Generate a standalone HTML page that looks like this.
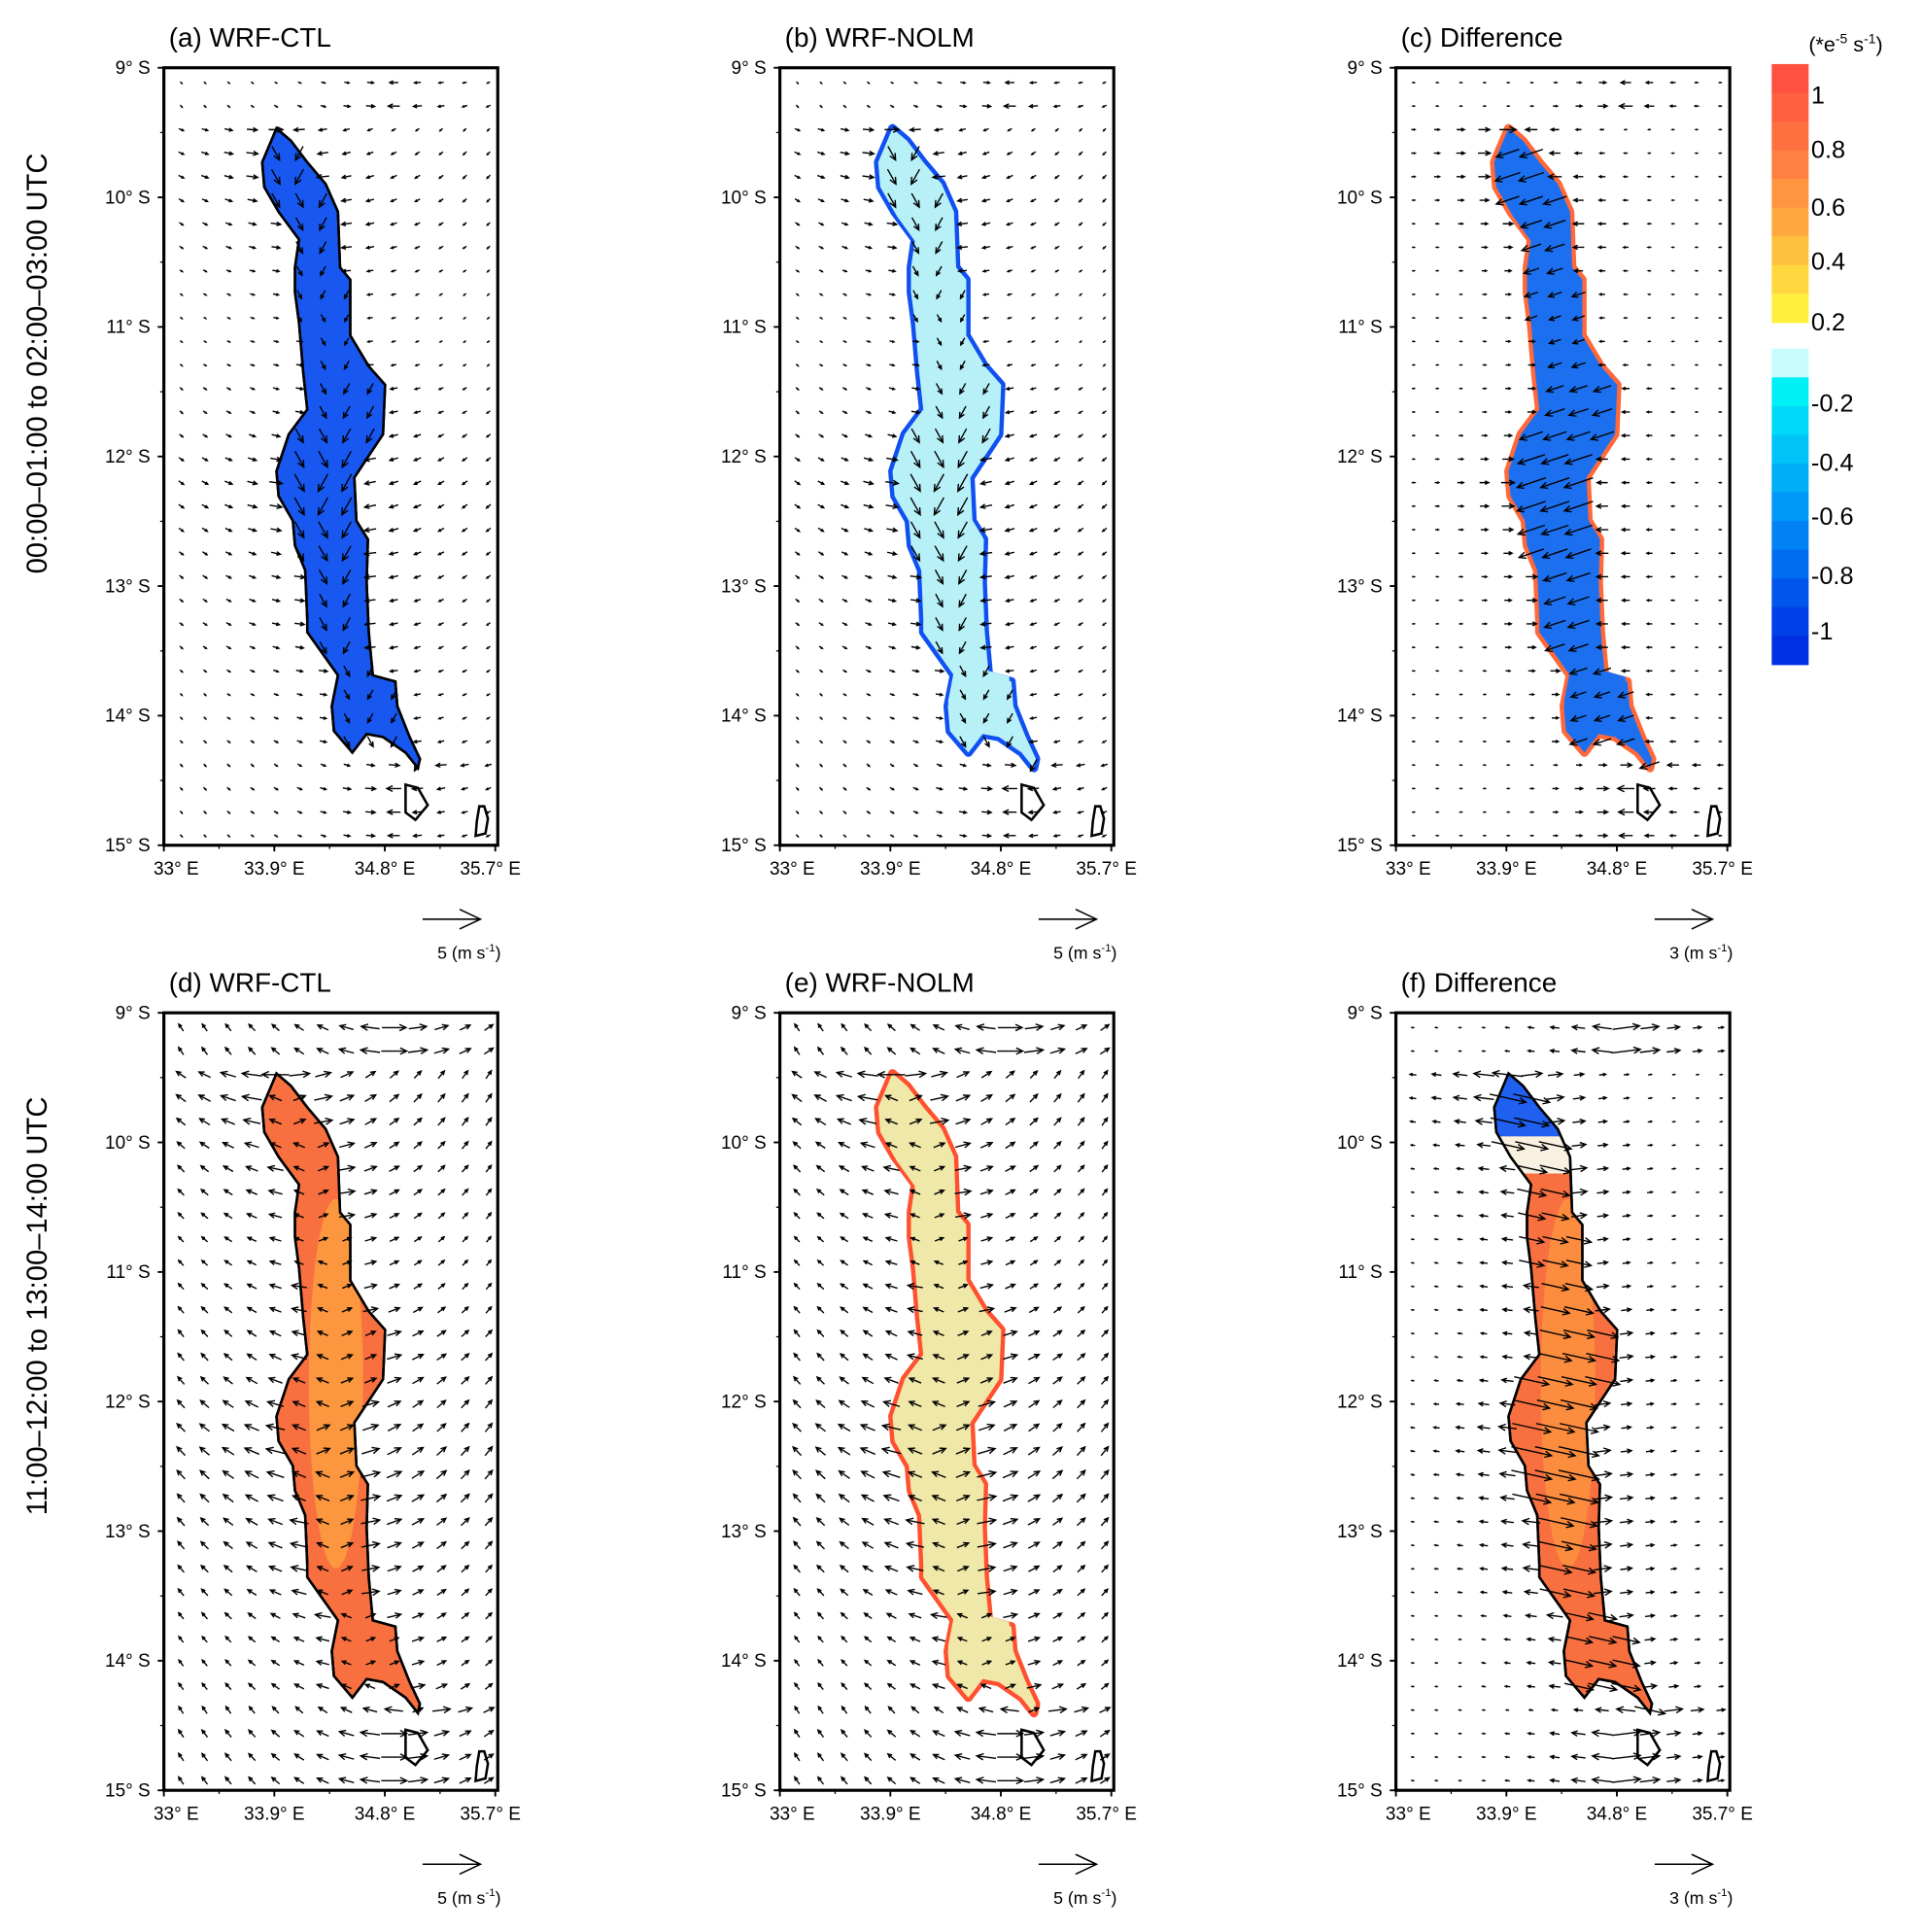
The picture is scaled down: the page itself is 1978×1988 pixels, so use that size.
<!DOCTYPE html>
<html><head><meta charset="utf-8"><style>
html,body{margin:0;padding:0;background:#fff}
svg{display:block;font-family:"Liberation Sans",Arial,sans-serif}
</style></head><body>
<svg id="fig" xmlns="http://www.w3.org/2000/svg" width="1978" height="1988" viewBox="0 0 1560 1568" preserveAspectRatio="none">
<text x="0" y="0" transform="translate(38,295) rotate(-90)" text-anchor="middle" font-size="23">00:00–01:00 to 02:00–03:00 UTC</text>
<text x="0" y="0" transform="translate(38,1060) rotate(-90)" text-anchor="middle" font-size="23">11:00–12:00 to 13:00–14:00 UTC</text>
<g id="panels"></g>
<g id="cbar"></g>
</svg>
<script>
// ---------- data ----------
var latTicks = [9,10,11,12,13,14,15];
var lonTicks = [33,33.9,34.8,35.7];
var lonMin = 33, lonMax = 35.72, latMin = 9, latMax = 15;
// lake outline (reference-digitized, frame-relative units 0..815 x 0..1258)
var lakeX = [275,240,245,280,330,320,320,330,340,350,305,275,280,315,320,345,350,350,425,410,415,460,495,535,590,620,625,600,570,565,510,500,495,498,470,465,535,540,500,455,455,430,425,395,350,310];
var lakeY = [98,153,193,233,278,323,363,413,493,553,593,653,693,733,773,813,893,913,983,1033,1073,1108,1078,1083,1108,1133,1118,1083,1033,993,983,913,833,763,733,663,593,513,483,433,343,323,233,188,153,118];
// wind magnitude per row (m/s), 33 rows north->south
var nightMag = [1.2,1.6,2.0,2.4,2.6,2.4,2.2,2.0,1.6,1.4,1.2,1.2,1.4,1.8,2.0,2.4,2.8,3.0,3.0,2.8,2.6,2.4,2.2,2.2,2.0,1.8,1.6,1.6,1.8,2.0,2.0,1.8,1.6];
var dayMag = [3.2,3.4,3.6,3.8,3.6,3.4,3.2,3.0,2.8,2.6,2.6,2.8,3.0,3.2,3.4,3.6,3.8,4.0,4.2,4.2,4.0,3.8,3.6,3.4,3.2,3.0,2.8,2.8,3.0,3.2,3.4,3.4,3.4];
var warmLabels = ["1","0.8","0.6","0.4","0.2"];
var coolLabels = ["-0.2","-0.4","-0.6","-0.8","-1"];
var warmColors = ["#ff5040","#ff6040","#ff7040","#ff8040","#ff9540","#ffa840","#ffc040","#ffd840","#fff040"];
var coolColors = ["#c8fcff","#00f0f8","#00daf8","#00c4f8","#00aef8","#0098f8","#0082f4","#006cf0","#0056ec","#0040e8","#0030e4"];

var panels = [
 {id:"a",t:"(a) WRF-CTL",x:133,y:55,fill:"#1858f0",edge:null,wind:"night",ref:"5"},
 {id:"b",t:"(b) WRF-NOLM",x:633,y:55,fill:"#b8f0f8",edge:"#1050f0",wind:"night",ref:"5"},
 {id:"c",t:"(c) Difference",x:1133,y:55,fill:"#1c70f0",edge:"#ff6838",wind:"diffn",ref:"3"},
 {id:"d",t:"(d) WRF-CTL",x:133,y:822,fill:"#f87040",edge:null,wind:"day",ref:"5",inner:"#ffb040"},
 {id:"e",t:"(e) WRF-NOLM",x:633,y:822,fill:"#f0e8a8",edge:"#ff5030",wind:"day",ref:"5"},
 {id:"f",t:"(f) Difference",x:1133,y:822,fill:"#f87040",edge:null,wind:"diffd",ref:"3",north:"#2060f0",inner:"#ffa040"}
];
var W=271,H=631;
var NS="http://www.w3.org/2000/svg";
function el(tag,attrs,parent){var e=document.createElementNS(NS,tag);for(var k in attrs)e.setAttribute(k,attrs[k]);if(parent)parent.appendChild(e);return e;}
function xs(lon){return (lon-lonMin)/(lonMax-lonMin)*W;}
function ys(lat){return (lat-latMin)/(latMax-latMin)*H;}
function lx(u){return u/815*W;} function ly(v){return v/1258*H;}
function lakePts(){var s=[];for(var i=0;i<lakeX.length;i++)s.push(lx(lakeX[i]).toFixed(1)+","+ly(lakeY[i]).toFixed(1));return s.join(" ");}
function scan(py){
  var xsArr=[];for(var i=0;i<lakeX.length;i++){var j=(i+1)%lakeX.length;var y1=ly(lakeY[i]),y2=ly(lakeY[j]);
   if((y1<=py&&y2>py)||(y2<=py&&y1>py)){var x1=lx(lakeX[i]),x2=lx(lakeX[j]);xsArr.push(x1+(py-y1)/(y2-y1)*(x2-x1));}}
  if(!xsArr.length)return null;return [Math.min.apply(null,xsArr),Math.max.apply(null,xsArr)];}
var root=document.getElementById("panels");
panels.forEach(function(p){
  var g=el("g",{transform:"translate("+p.x+","+p.y+")"},root);
  
  
  var t=el("text",{x:4,y:-17,"font-size":22},g);t.textContent=p.t;
  
  
  var cid="clip"+p.id;
  var cp=el("clipPath",{id:cid},g);el("polygon",{points:lakePts()},cp);
  if(p.edge){el("polygon",{points:lakePts(),fill:p.edge,stroke:p.edge,"stroke-width":7,"stroke-linejoin":"round"},g);}
  var lake=el("polygon",{points:lakePts(),fill:p.fill,stroke:p.edge?"none":"#000","stroke-width":2},g);
  
  
  if(p.edge){el("polygon",{points:lakePts(),fill:p.fill,stroke:"none",transform:"translate("+(lx(430)*0.04)+","+(ly(600)*0.02)+") scale(0.96,0.98)"},g);}
  if(p.inner){el("ellipse",{cx:lx(420),cy:ly(600),rx:22,ry:150,fill:p.inner,opacity:0.6,"clip-path":"url(#"+cid+")"},g);}
  if(p.north){el("rect",{x:0,y:0,width:W,height:ly(200),fill:p.north,"clip-path":"url(#"+cid+")"},g);
              el("rect",{x:0,y:ly(200),width:W,height:ly(60),fill:"#f8f0e0","clip-path":"url(#"+cid+")"},g);}
  if(!p.edge){el("polygon",{points:lakePts(),fill:"none",stroke:"#000","stroke-width":2},g);}
  // islands
  el("path",{d:"M"+lx(590)+","+ly(1160)+" l0,"+ly(45)+" l8,6 l10,-12 l-8,-14 z",fill:"none",stroke:"#000","stroke-width":2},g);
  el("path",{d:"M"+lx(770)+","+ly(1195)+" l4,0 l3,10 l-2,12 l-8,2 l1,-12 z",fill:"none",stroke:"#000","stroke-width":2},g);
  // wind arrows
  var ag=el("g",{stroke:"#000","stroke-width":1.1,fill:"none"},g);
  
  
  var magArr=(p.wind==="day"||p.wind==="diffd")?dayMag:nightMag;
  var scl=(p.ref==="3")?47/3:47/5;
  for(var r=0;r<33;r++){
    var py=12+r*19.1; var sc=scan(py); var mid=sc?(sc[0]+sc[1])/2:lx(560); 
    for(var c=0;c<14;c++){
      var px=14+c*19.2; var d=px-mid; var inside=sc&&px>=sc[0]&&px<=sc[1];
      var m=magArr[r]; var dir=d>=0?1:-1; var fall=Math.exp(-Math.abs(d)/50);
      var u,v;
      if(p.wind==="night"){u=-dir*m*(0.15+fall);v=0.2*m*(1-fall);if(inside){u=-dir*m*0.5;v=m*0.9;}}
      else if(p.wind==="diffn"){u=-dir*m*0.8*fall;v=0; if(inside){u=-m*0.9;v=m*0.3;}}
      else if(p.wind==="day"){u=dir*m*(0.2+fall*1.0);v=-0.35*m*(1-fall); if(inside){u=dir*m*0.5;v=-0.2*m;}}
      else {u=dir*m*0.8*fall;v=-0.1*m*fall;if(inside){u=m*0.9;v=0.2*m;}}
      var L=Math.sqrt(u*u+v*v)*scl*0.55; if(L<2)L=2;
      var ang=Math.atan2(v,u);
      var x0=px-Math.cos(ang)*L/2,y0=py-Math.sin(ang)*L/2,x1=px+Math.cos(ang)*L/2,y1=py+Math.sin(ang)*L/2;
      var hs=Math.min(6,L*0.45);
      var h1=ang+2.7,h2=ang-2.7;
      el("path",{d:"M"+x0.toFixed(1)+","+y0.toFixed(1)+"L"+x1.toFixed(1)+","+y1.toFixed(1)+"M"+(x1+Math.cos(h1)*hs).toFixed(1)+","+(y1+Math.sin(h1)*hs).toFixed(1)+"L"+x1.toFixed(1)+","+y1.toFixed(1)+"L"+(x1+Math.cos(h2)*hs).toFixed(1)+","+(y1+Math.sin(h2)*hs).toFixed(1)},ag);
    }
  }
  // frame
  var fr=el("rect",{x:0,y:0,width:W,height:H,fill:"none",stroke:"#000","stroke-width":2.5},g);
  
  
  latTicks.forEach(function(lat){var y=ys(lat);el("line",{x1:0,y1:y,x2:-5,y2:y,stroke:"#000","stroke-width":1.5},g);
    if(lat<15)el("line",{x1:0,y1:y+H/12,x2:-3,y2:y+H/12,stroke:"#000"},g);
    var tt=el("text",{x:-11,y:y+5,"text-anchor":"end","font-size":15},g);tt.textContent=lat+"° S";
    
    });
  lonTicks.forEach(function(lon){var x=xs(lon);el("line",{x1:x,y1:H,x2:x,y2:H+5,stroke:"#000","stroke-width":1.5},g);
    if(lon<35.7)el("line",{x1:x+xs(33.45)-xs(33),y1:H,x2:x+xs(33.45)-xs(33),y2:H+3,stroke:"#000"},g);
    var tt=el("text",{x:x+(lon===35.7?-4:(lon===33?10:0)),y:H+24,"text-anchor":"middle","font-size":15},g);tt.textContent=lon+"° E";
    
    });
  // reference arrow
  var ry=H+60;
  var ra=el("path",{d:"M210,"+ry+" L257,"+ry+" M240,"+(ry-8)+" L257,"+ry+" L240,"+(ry+8),stroke:"#000","stroke-width":1.2,fill:"none"},g);
  
  
  var rt=el("text",{x:222,y:ry+32,"font-size":14},g);
  rt.innerHTML=p.ref+" (m s<tspan font-size='9' dy='-6'>-1</tspan><tspan dy='6'>)</tspan>";
  
  
});
// colorbar
var cb=document.getElementById("cbar");
var bx=1438,bw=30,bh=23.3;
warmColors.forEach(function(c,i){var r=el("rect",{x:bx,y:52+i*bh,width:bw,height:bh+0.5,fill:c},cb);
  
  });
coolColors.forEach(function(c,i){var r=el("rect",{x:bx,y:283+i*bh,width:bw,height:bh+0.5,fill:c},cb);
  
  });
var wy=[84,128,175,219,268],cy=[334,382,426,474,519];
warmLabels.forEach(function(s,i){var t=el("text",{x:1470,y:wy[i],"font-size":20},cb);t.textContent=s;
  
  });
coolLabels.forEach(function(s,i){var t=el("text",{x:1470,y:cy[i],"font-size":20},cb);t.textContent=s;
  
  });
var ut=el("text",{x:1468,y:42,"font-size":17},cb);
ut.innerHTML="(*e<tspan font-size='11' dy='-7'>-5</tspan><tspan dy='7'> s</tspan><tspan font-size='11' dy='-7'>-1</tspan><tspan dy='7'>)</tspan>";


</script>
</body></html>
